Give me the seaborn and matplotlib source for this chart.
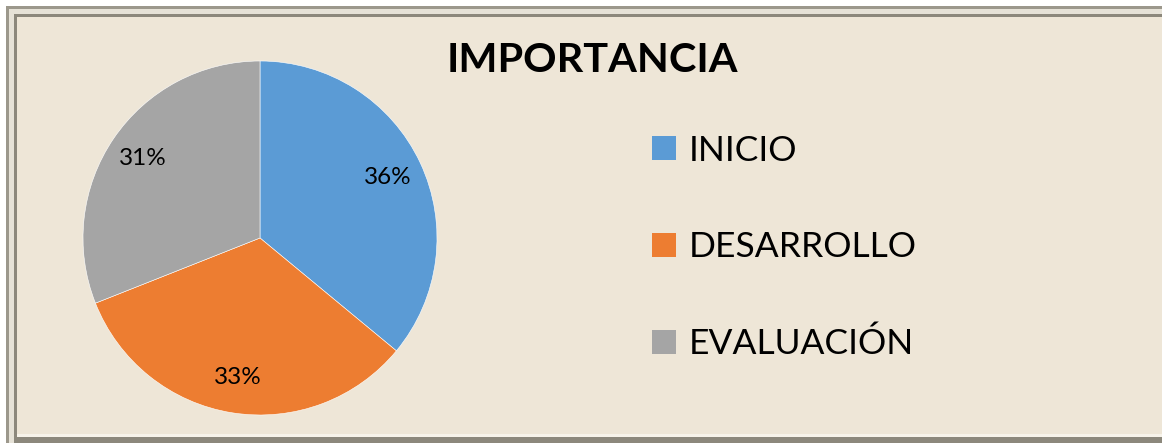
import matplotlib
matplotlib.use("Agg")
import matplotlib.pyplot as plt
import seaborn as sns
from matplotlib.patches import Rectangle, Patch

sns.set_theme(style="white")
plt.rcParams["font.family"] = ["Lato", "DejaVu Sans"]
plt.rcParams["text.color"] = "black"

# data
categories = ["INICIO", "DESARROLLO", "EVALUACIÓN"]
shares = [36, 33, 31]
colors = ["#5B9BD5", "#ED7D31", "#A5A5A5"]
title = "IMPORTANCIA"

W, H = 1162, 443
fig = plt.figure(figsize=(W / 100, H / 100), dpi=100)
fig.patch.set_facecolor("white")


def px_rect(x0, y0, x1, y1, color):
    # rectangle in pixel coords measured from the top-left
    r = Rectangle((x0 / W, 1 - y1 / H), (x1 - x0) / W, (y1 - y0) / H,
                  transform=fig.transFigure, facecolor=color,
                  edgecolor="none", zorder=-10)
    fig.patches.append(r)


# bevelled frame (cut off on the right and bottom)
px_rect(6, 6, 1200, 480, "#9C988C")
px_rect(9, 9, 1200, 480, "#E6E2D7")
px_rect(14, 14, 1200, 480, "#8C887C")
px_rect(17, 17, 1200, 434, "#EEE6D7")
px_rect(17, 434, 1200, 437, "#F7F3EA")

# pie
cx, cy, r = 260, 238, 177
ax = fig.add_axes([(cx - r) / W, 1 - (cy + r) / H, 2 * r / W, 2 * r / H])
ax.set_zorder(5)
ax.set_facecolor("none")
wedges, texts, autotexts = ax.pie(
    shares, colors=colors, startangle=90, counterclock=False,
    autopct="%1.0f%%", pctdistance=0.8, radius=1,
    wedgeprops=dict(linewidth=0.4, edgecolor="white"),
    textprops=dict(fontsize=17.5, color="black"),
)
ax.set_xlim(-1, 1)
ax.set_ylim(-1, 1)
ax.set_aspect("equal")
ax.axis("off")

fig.text(592 / W, 1 - 60 / H, title, ha="center", va="center",
         fontsize=29.8, fontweight="bold", color="black")

handles = [Patch(facecolor=c, edgecolor="none") for c in colors]
leg = fig.legend(handles, categories, loc="upper left",
                 bbox_to_anchor=(634 / W, 1 - 117 / H), frameon=False,
                 fontsize=25.5, handlelength=0.68, handleheight=0.68,
                 handletextpad=0.38, labelspacing=1.82, borderpad=0,
                 labelcolor="black")

fig.savefig("out.png", dpi=100, facecolor=fig.get_facecolor())
